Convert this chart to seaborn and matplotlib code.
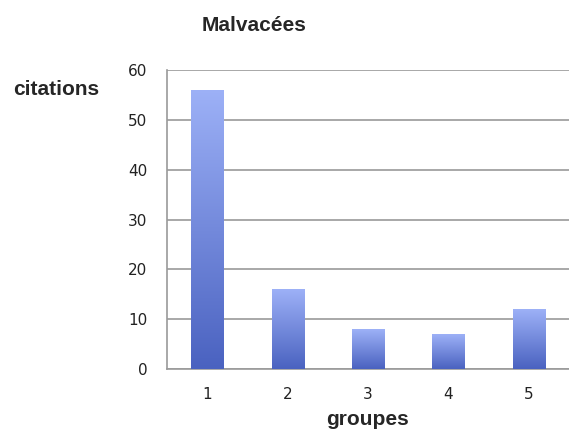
import numpy as np
import pandas as pd
import seaborn as sns
import matplotlib.pyplot as plt
from matplotlib.colors import LinearSegmentedColormap

groupes = ['1', '2', '3', '4', '5']
citations = [56, 16, 8, 7, 12]

df = pd.DataFrame({'groupes': groupes, 'citations': citations})

sns.set_style("white")
plt.rcParams['font.family'] = ['Liberation Sans', 'DejaVu Sans']

fig = plt.figure(figsize=(5.69, 4.33), dpi=100)
ax = fig.add_axes([0.2935, 0.1478, 0.7065, 0.6905])

sns.barplot(data=df, x='groupes', y='citations', color='#6f86dc',
            width=0.4, ax=ax, zorder=2)

# gradient fill on each bar (light on top, darker at bottom)
cmap = LinearSegmentedColormap.from_list('bar', ['#4a62c0', '#9db1f7'])
grad = np.linspace(0, 1, 256).reshape(-1, 1)
for bar in ax.patches:
    x0, y0 = bar.get_x(), bar.get_y()
    w, h = bar.get_width(), bar.get_height()
    bar.set_facecolor('none')
    bar.set_edgecolor('none')
    im = ax.imshow(grad, cmap=cmap, origin='lower', aspect='auto',
                   extent=[x0, x0 + w, y0, y0 + h], zorder=3)
    im.set_clip_path(bar)

ax.set_xlim(-0.5, 4.5)
ax.set_ylim(0, 60)
ax.set_yticks([0, 10, 20, 30, 40, 50, 60])
ax.yaxis.grid(True, color='#9a9a9a', linewidth=1.2, zorder=0)
ax.set_axisbelow(True)

for s in ['top', 'right']:
    ax.spines[s].set_visible(False)
for s in ['left', 'bottom']:
    ax.spines[s].set_color('#9a9a9a')
    ax.spines[s].set_linewidth(1.2)

ax.set_xticks([-0.5, 0.5, 1.5, 2.5, 3.5, 4.5], minor=True)
ax.tick_params(axis='x', which='major', length=0, labelsize=11, pad=13, colors='#222222')
ax.tick_params(axis='x', which='minor', length=6, color='#9a9a9a', width=1.2)
ax.tick_params(axis='y', length=6, color='#9a9a9a', width=1.2, labelsize=11, pad=8, labelcolor='#222222')
ax.set_xticklabels(groupes)
for lab in ax.get_xticklabels() + ax.get_yticklabels():
    lab.set_family('DejaVu Sans')

ax.set_xlabel('')
ax.set_ylabel('')
fig.text(0.4464, 0.9284, 'Malvacées', fontsize=15, fontweight='bold', ha='center', va='baseline')
fig.text(0.0984, 0.7806, 'citations', fontsize=15, fontweight='bold', ha='center', va='baseline')
fig.text(0.6467, 0.0185, 'groupes', fontsize=15, fontweight='bold', ha='center', va='baseline')

plt.savefig('out.png', dpi=100)
